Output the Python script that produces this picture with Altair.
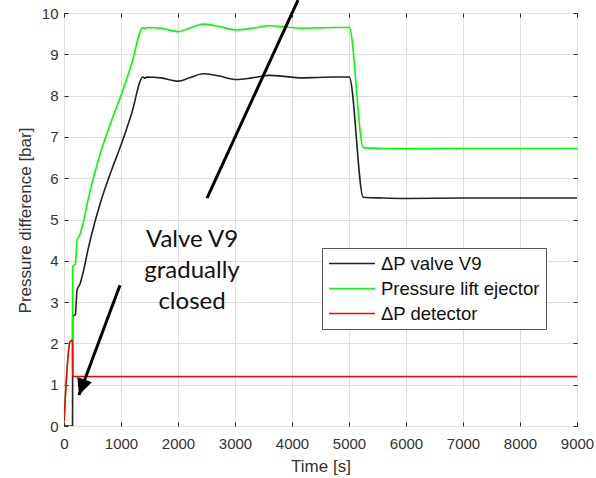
import altair as alt
import pandas as pd

# --- data ---
t_valve = [0, 150, 152, 199, 230, 275, 333, 421, 538, 655, 830, 1005, 1181, 1386, 1420, 1450, 1700, 2006, 2200, 2444,
           2700, 3029, 3300, 3614, 3900, 4140, 4450, 4725, 5005, 5251, 5600, 6000, 7000, 8000, 9000]
v_valve = [0, 0, 2.65, 2.70, 3.30, 3.42, 3.70, 4.27, 4.92, 5.48, 6.18, 6.82, 7.54, 8.45, 8.42, 8.45, 8.43, 8.35, 8.43, 8.53,
           8.48, 8.39, 8.43, 8.49, 8.46, 8.43, 8.44, 8.45, 8.45, 5.54, 5.52, 5.51, 5.52, 5.52, 5.52]

t_eject = [0, 105, 150, 152, 199, 230, 275, 333, 421, 538, 655, 830, 1005, 1181, 1386, 1420, 1450, 1700, 2006, 2200,
           2444, 2700, 3029, 3300, 3614, 3900, 4140, 4450, 4725, 5005, 5251, 5600, 6000, 7000, 8000, 9000]
v_eject = [0.1, 2.04, 2.08, 3.86, 3.92, 4.50, 4.62, 4.90, 5.47, 6.12, 6.68, 7.38, 8.02, 8.74, 9.65, 9.62, 9.65, 9.63, 9.55, 9.63,
           9.73, 9.68, 9.59, 9.63, 9.69, 9.66, 9.63, 9.64, 9.65, 9.65, 6.74, 6.72, 6.71, 6.72, 6.72, 6.72]

t_det = [0, 105, 150, 152, 9000]
v_det = [0.1, 2.04, 2.08, 1.2, 1.2]

series_names = ["\u0394P valve V9", "Pressure lift ejector", "\u0394P detector"]
series_colors = ["#222222", "#00ff00", "#ff0000"]

x_ticks = [0, 1000, 2000, 3000, 4000, 5000, 6000, 7000, 8000, 9000]
y_ticks = [0, 1, 2, 3, 4, 5, 6, 7, 8, 9, 10]

# annotations (data coordinates)
arrow1_t = [4105, 2509]
arrow1_v = [10.31, 5.52]
arrow2_t = [982, 263]
arrow2_v = [3.41, 0.75]
note_t = [2246]
note_v = [4.8]
note_text = [["Valve V9", "gradually", "closed"]]

rows = []
for name, ts, vs in [(series_names[0], t_valve, v_valve),
                     (series_names[1], t_eject, v_eject),
                     (series_names[2], t_det, v_det)]:
    for i, (t, v) in enumerate(zip(ts, vs)):
        rows.append({"series": name, "t": t, "v": v, "order": i})
df = pd.DataFrame(rows)

xscale = alt.Scale(domain=[0, 9000], nice=False)
yscale = alt.Scale(domain=[0, 10], nice=False)

lines = alt.Chart(df).mark_line(strokeWidth=1.6, clip=True, interpolate="monotone").encode(
    x=alt.X("t:Q", scale=xscale,
            axis=alt.Axis(title="Time [s]", values=x_ticks, format="d", offset=-4, domain=False,
                          labelFlush=False, labelPadding=10, titleBaseline="middle", titleY=44)),
    y=alt.Y("v:Q", scale=yscale,
            axis=alt.Axis(title="Pressure difference [bar]", values=y_ticks, offset=-4, domain=False,
                          labelFlush=False, labelPadding=6, titleBaseline="middle", titleX=-43, titleY=207)),
    color=alt.Color("series:N",
                    scale=alt.Scale(domain=series_names, range=series_colors),
                    sort=series_names,
                    legend=alt.Legend(title=None, orient="none", legendX=258, legendY=235,
                                      symbolType="stroke", symbolSize=2116, symbolStrokeWidth=1.6,
                                      clipHeight=19, rowPadding=6,
                                      labelFontSize=18.5, labelFont="Liberation Sans", labelColor="#111111",
                                      strokeColor="#555555", fillColor="white", padding=6,
                                      labelOffset=5, cornerRadius=0)),
    order="order:Q",
)

a1 = pd.DataFrame({"t": arrow1_t, "v": arrow1_v, "o": [0, 1]})
arrow1 = alt.Chart(a1).mark_line(color="black", strokeWidth=3).encode(
    x=alt.X("t:Q", scale=xscale), y=alt.Y("v:Q", scale=yscale), order="o:Q")

a2 = pd.DataFrame({"t": arrow2_t, "v": arrow2_v, "o": [0, 1]})
arrow2 = alt.Chart(a2).mark_line(color="black", strokeWidth=3).encode(
    x=alt.X("t:Q", scale=xscale), y=alt.Y("v:Q", scale=yscale), order="o:Q")

head = alt.Chart(pd.DataFrame({"t": [arrow2_t[1]], "v": [arrow2_v[1]]})).mark_point(
    shape="M0,0L-0.85,1.8L0.85,1.8Z", filled=True, color="black", opacity=1,
    size=330, angle=200, strokeWidth=0).encode(
    x=alt.X("t:Q", scale=xscale), y=alt.Y("v:Q", scale=yscale))

note = alt.Chart(pd.DataFrame({"t": note_t, "v": note_v, "txt": note_text})).mark_text(
    font="Lato", fontSize=24, color="#111111", align="center", baseline="top", lineHeight=31).encode(
    x=alt.X("t:Q", scale=xscale), y=alt.Y("v:Q", scale=yscale), text="txt")

main = alt.layer(lines, arrow1, arrow2, head, note)

# top / right box ticks (same scales, separate axes)
box_ticks = alt.Chart(a1).mark_line(opacity=0).encode(
    x=alt.X("t:Q", scale=xscale,
            axis=alt.Axis(orient="top", values=x_ticks, labels=False, grid=False, domain=False,
                          title=None, offset=-4)),
    y=alt.Y("v:Q", scale=yscale,
            axis=alt.Axis(orient="right", values=y_ticks, labels=False, grid=False, domain=False,
                          title=None, offset=-4)),
)

chart = alt.layer(main, box_ticks).resolve_scale(x="independent", y="independent").properties(
    width=513, height=413,
    autosize=alt.AutoSizeParams(type="none"),
    padding={"left": 64, "top": 13, "right": 19, "bottom": 52},
).configure_view(stroke="#262626", strokeWidth=1).configure_axis(
    labelFont="Liberation Sans", labelFontSize=15, labelColor="#333333",
    titleFont="Liberation Sans", titleFontSize=17, titleFontWeight="normal", titleColor="#333333",
    gridColor="#dedede", gridWidth=1, tickColor="#262626", tickSize=4,
)

chart.save("out.html", embed_options={"renderer": "svg", "actions": False})
